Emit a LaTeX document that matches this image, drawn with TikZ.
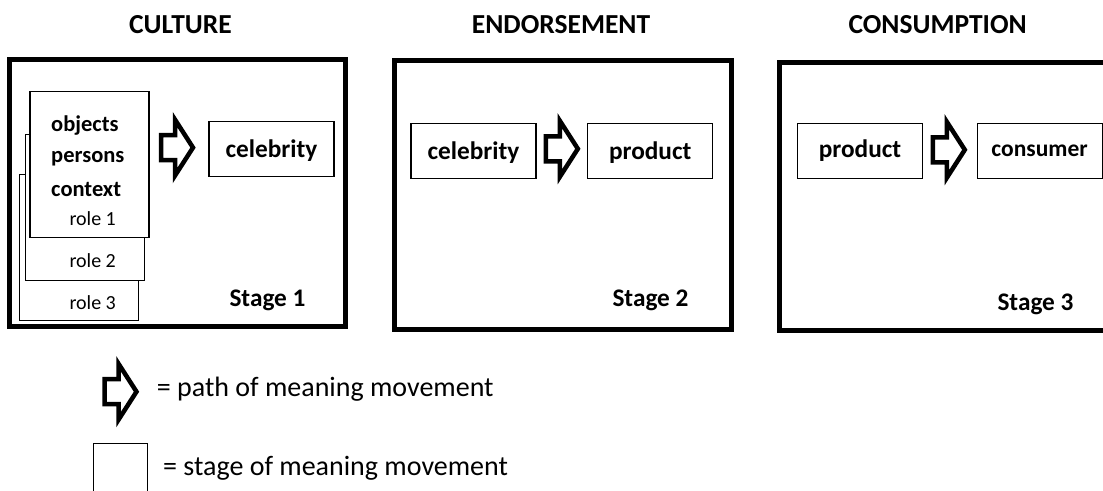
\documentclass[tikz,border=0pt]{standalone}
\usepackage{fontspec}
\setmainfont{Carlito}
\usetikzlibrary{calc}

% font sizes
\newcommand\headfont{\fontsize{27.5}{32}\selectfont\bfseries}
\newcommand\labelfont{\fontsize{25.3}{30}\selectfont\bfseries}
\newcommand\itemfont{\fontsize{22.5}{27}\selectfont\bfseries}
\newcommand\rolefont{\fontsize{20}{24}\selectfont}
\newcommand\keyfont{\fontsize{28}{33}\selectfont}

\tikzset{
  frame/.style={draw, line width=5pt, inner sep=0pt},
  box/.style={draw, line width=1.2pt, inner sep=0pt, font=\labelfont,
              text depth=0pt},
  sheet/.style={draw, line width=1.2pt, fill=white, inner sep=0pt,
                minimum width=119pt, minimum height=146pt},
  txt/.style={anchor=base west, inner sep=0pt},
  head/.style={txt, font=\headfont},
  arrowline/.style={draw, line width=4.5pt, miter limit=10},
  mover/.pic={
    \path[arrowline] (-16,-12.5) -- (-2,-12.5) -- (-2,-28) -- (16,0)
      -- (-2,28) -- (-2,12.5) -- (-16,12.5) -- cycle;
  }
}

\begin{document}
\begin{tikzpicture}[x=1pt,y=-1pt]
\useasboundingbox (0,0) rectangle (1103,490);
\clip (0,0) rectangle (1103,490);

% column headings
\node[head] (hcult) at (129,33.3) {CULTURE};
\node[head] (hend)  at (471.7,33.3) {ENDORSEMENT};
\node[head] (hcons) at (848.3,33.3) {CONSUMPTION};

% stage frames
\node[frame, minimum width=336pt, minimum height=267pt] (stage1) at (177.5,193) {};
\node[frame, minimum width=336.5pt, minimum height=269pt] (stage2) at (562.75,195) {};
\node[frame, minimum width=336.5pt, minimum height=268pt] (stage3) at (947.75,196.5) {};

% stage 1: stacked sheets of cultural meaning
\node[sheet] (src3) at (78.8,247.2) {};
\node[sheet] (src2) at (84.6,207.2) {};
\node[sheet] (src1) at (89.5,164.2) {};
\node[txt, font=\itemfont] (tobj) at (51,131) {objects};
\node[txt, font=\itemfont] (tper) at (51,162.7) {persons};
\node[txt, font=\itemfont] (tcon) at (51,196) {context};
\node[txt, font=\rolefont] (tr1) at (69.3,225.7) {role 1};
\node[txt, font=\rolefont] (tr2) at (69.3,267.3) {role 2};
\node[txt, font=\rolefont] (tr3) at (69.3,309) {role 3};

\node[box, minimum width=125pt, minimum height=55pt] (cel1) at (271.5,148.6) {celebrity};
\node[txt, font=\labelfont] (st1) at (229.3,306) {Stage 1};

% stage 2
\node[box, minimum width=125pt, minimum height=55pt] (cel2) at (473.5,150.8) {celebrity};
\node[box, minimum width=125pt, minimum height=55pt] (prd2) at (650.2,150.8) {product};
\node[txt, font=\labelfont] (st2) at (612.3,306) {Stage 2};

% stage 3
\node[box, minimum width=125pt, minimum height=55pt, text depth=5pt] (prd3) at (860,150.8) {product};
\node[box, minimum width=125pt, minimum height=55pt, font=\fontsize{23.5}{28}\selectfont\bfseries] (cons) at (1039.6,150.8) {consumer};
\node[txt, font=\labelfont] (st3) at (997.3,310) {Stage 3};

% paths of meaning movement
\pic at ($(src1.east |- cel1.west)!0.5!(cel1.west)+(-2,-1)$) {mover};
\pic at ($(cel2.east)!0.5!(prd2.west)+(0,-2)$) {mover};
\pic at ($(prd3.east)!0.5!(cons.west)+(-1,-1)$) {mover};

% key
\pic at (120.5,391.7) {mover};
\node[txt, font=\keyfont] (k1) at (156.7,396.7) {= path of meaning movement};
\node[draw, line width=1.2pt, inner sep=0pt, minimum width=54pt, minimum height=60pt] (ksq) at (120.3,473.3) {};
\node[txt, font=\keyfont] (k2) at (163,475) {= stage of meaning movement};
\end{tikzpicture}
\end{document}
